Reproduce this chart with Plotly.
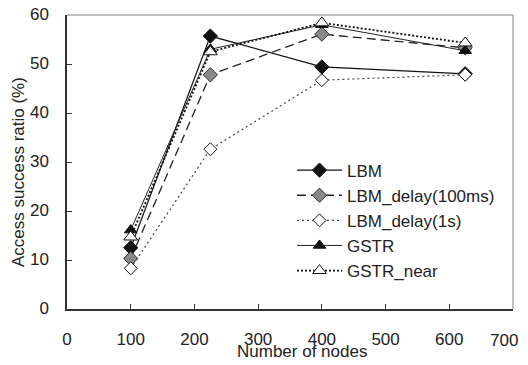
import plotly.graph_objects as go

nodes = [100, 225, 400, 625]
lbm = [12.5, 55.7, 49.4, 48.0]
lbm_delay_100ms = [10.3, 47.8, 56.1, 53.3]
lbm_delay_1s = [8.3, 32.6, 46.7, 47.8]
gstr = [16.1, 53.0, 58.0, 52.7]
gstr_near = [14.7, 52.5, 58.4, 54.3]

x_ticks = [0, 100, 200, 300, 400, 500, 600, 700]
x_tick_labels = ["0", "100", "200", "300", "400", "500", "600", "700"]
y_ticks = [0, 10, 20, 30, 40, 50, 60]
y_tick_labels = ["0", "10", "20", "30", "40", "50", "60"]

FONT = "Liberation Sans, Arial, sans-serif"
TXT = "#222222"

fig = go.Figure()

def add(name, y, dash, color, width, symbol, mfill, msize, mline="#111111"):
    fig.add_trace(go.Scatter(
        x=nodes, y=y, name=name, mode="lines+markers",
        line=dict(color=color, width=width, dash=dash),
        marker=dict(symbol=symbol, size=msize, color=mfill,
                    line=dict(color=mline, width=1)),
    ))

add("LBM", lbm, "solid", "#111111", 1.2, "diamond", "#111111", 11)
add("LBM_delay(100ms)", lbm_delay_100ms, "9px,5px", "#222222", 1.3, "diamond", "#888888", 11, "#333333")
add("LBM_delay(1s)", lbm_delay_1s, "2px,3px", "#444444", 1.2, "diamond", "white", 10)
add("GSTR", gstr, "solid", "#222222", 1.0, "triangle-up", "#111111", 11)
add("GSTR_near", gstr_near, "2px,2px", "#111111", 1.8, "triangle-up", "white", 12)

# top and right frame lines (gray)
fig.add_shape(type="line", xref="paper", yref="paper", x0=0, x1=1, y0=1, y1=1,
              line=dict(color="#aaaaaa", width=1.5))
fig.add_shape(type="line", xref="paper", yref="paper", x0=1, x1=1, y0=0, y1=1,
              line=dict(color="#aaaaaa", width=1.5))

# last x tick label drawn as annotation so it stays inside the page
shown_x_labels = x_tick_labels[:-1] + [""]
fig.add_annotation(text=x_tick_labels[-1], xref="x", yref="paper",
                   x=x_ticks[-1], y=0, xshift=7, yshift=-31,
                   xanchor="right", yanchor="middle", showarrow=False,
                   font=dict(family=FONT, size=17, color=TXT))

fig.add_annotation(text="Number of nodes", xref="paper", yref="paper",
                   x=0.527, y=0, yshift=-31, xanchor="center", yanchor="top",
                   showarrow=False, font=dict(family=FONT, size=17, color=TXT))
fig.add_annotation(text="Access success ratio (%)", xref="paper", yref="paper",
                   x=0, xshift=-48, y=0.466, xanchor="center", yanchor="middle",
                   textangle=-90, showarrow=False,
                   font=dict(family=FONT, size=17, color=TXT))

fig.update_layout(
    width=520, height=349,
    margin=dict(l=59, r=15, t=7, b=48, autoexpand=False),
    paper_bgcolor="white", plot_bgcolor="white",
    font=dict(family=FONT, size=17, color=TXT),
    showlegend=True,
    legend=dict(x=(284 - 59) / 446, y=0.532, xanchor="left", yanchor="top",
                bgcolor="rgba(0,0,0,0)", borderwidth=0, itemwidth=45,
                font=dict(family=FONT, size=17, color=TXT),
                tracegroupgap=0),
    xaxis=dict(range=[0, 700], tickvals=x_ticks, ticktext=shown_x_labels,
               showgrid=False, zeroline=False, showline=True, automargin=False,
               linecolor="#333333", linewidth=1.5,
               ticks="inside", ticklen=5, tickcolor="#333333",
               ticklabelstandoff=14, ticklabeloverflow="allow",
               tickfont=dict(size=17)),
    yaxis=dict(range=[0, 60], tickvals=y_ticks, ticktext=y_tick_labels,
               showgrid=False, zeroline=False, showline=True, automargin=False,
               linecolor="#333333", linewidth=1.5,
               ticks="inside", ticklen=5, tickcolor="#333333",
               ticklabelstandoff=13, ticklabelshift=-1, ticklabeloverflow="allow",
               tickfont=dict(size=17)),
)

fig.write_html("out.html")
